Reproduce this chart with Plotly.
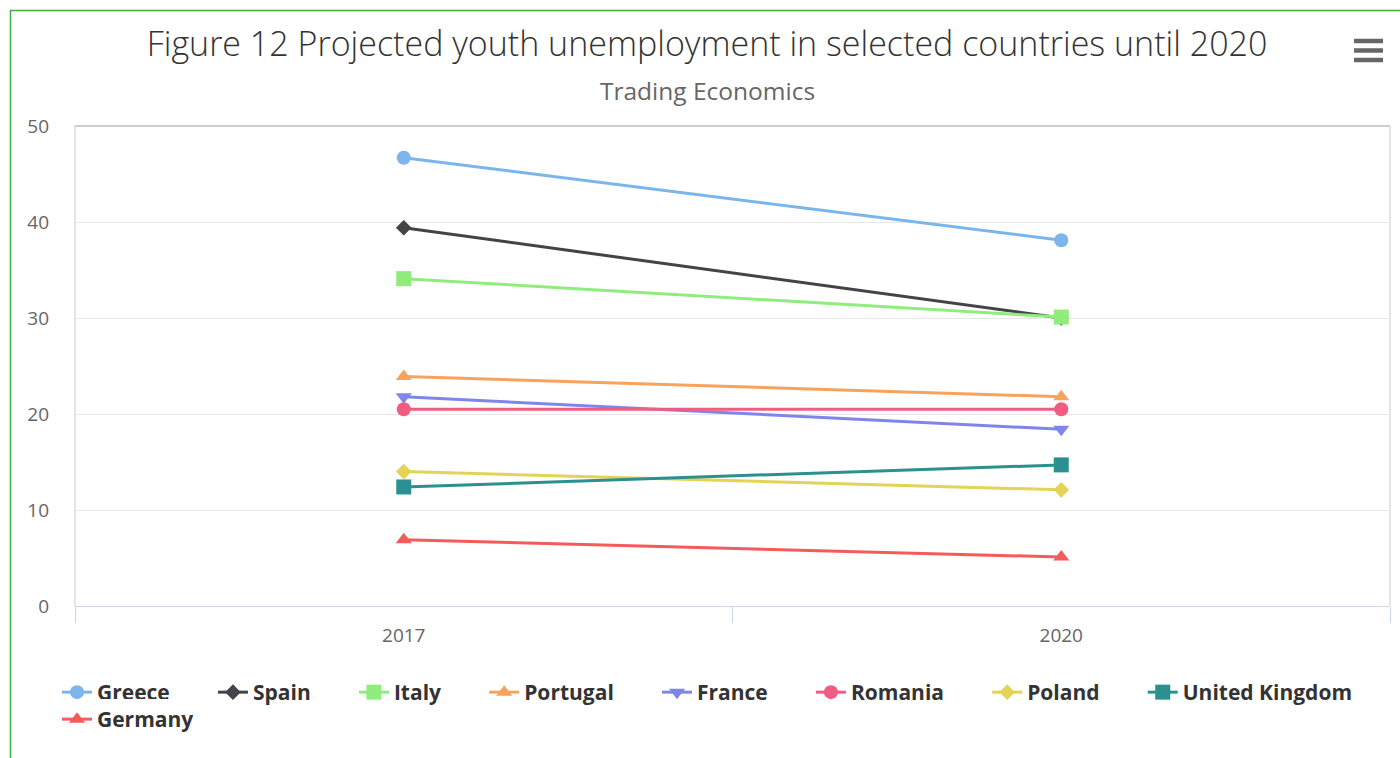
import plotly.graph_objects as go

years = ["2017", "2020"]
countries = ["Greece", "Spain", "Italy", "Portugal", "France", "Romania", "Poland", "United Kingdom", "Germany"]
greece = [46.7, 38.1]
spain = [39.4, 30.0]
italy = [34.1, 30.1]
portugal = [23.9, 21.8]
france = [21.8, 18.4]
romania = [20.5, 20.5]
poland = [14.0, 12.1]
uk = [12.4, 14.7]
germany = [6.9, 5.1]

series = [greece, spain, italy, portugal, france, romania, poland, uk, germany]
colors = ["#7cb5ec", "#434348", "#90ed7d", "#f7a35c", "#8085e9", "#f15c80", "#e4d354", "#2b908f", "#f45b5b"]
symbols = ["circle", "diamond", "square", "triangle-up", "triangle-down", "circle", "diamond", "square", "triangle-up"]
sizes = [14, 12, 15, 14, 14, 14, 12, 15, 14]

PAD = "\u00a0" * 7

fig = go.Figure()
n = len(countries)
for i, (name, vals, c, s, sz) in enumerate(zip(countries, series, colors, symbols, sizes)):
    last_row1 = (i == n - 2)
    second_row = (i == n - 1)
    fig.add_trace(go.Scatter(
        x=years, y=vals, name=name + ("" if (last_row1 or second_row) else PAD), mode="lines+markers",
        line=dict(color=c, width=3),
        marker=dict(symbol=s, size=sz, color=c, line=dict(width=0)),
        hovertemplate=name + ": %{y}<extra></extra>",
        legend="legend2" if second_row else "legend",
    ))

W, H = 1400, 758
L, R, T, B = 75, 10, 126, 152
pw, ph = W - L - R, H - T - B

def px(x):
    return (x - L) / pw

def py(y):
    return (H - B - y) / ph

shapes = [
    # plot border top/left/right
    dict(type="line", xref="paper", yref="paper", x0=0, x1=1, y0=1, y1=1, line=dict(color="#cccccc", width=2)),
    dict(type="line", xref="paper", yref="paper", x0=0, x1=0, y0=0, y1=1, line=dict(color="#cccccc", width=1)),
    dict(type="line", xref="paper", yref="paper", x0=1, x1=1, y0=0, y1=1, line=dict(color="#cccccc", width=1)),
    # green outer frame
    dict(type="line", xref="paper", yref="paper", x0=px(10), x1=px(1400), y0=py(10.5), y1=py(10.5), line=dict(color="#3cb043", width=1.5)),
    dict(type="line", xref="paper", yref="paper", x0=px(10.5), x1=px(10.5), y0=py(10), y1=py(758), line=dict(color="#3cb043", width=1.5)),
]
# hamburger menu icon
for yy in [41, 50.5, 60]:
    shapes.append(dict(type="line", xref="paper", yref="paper", x0=px(1354), x1=px(1383), y0=py(yy), y1=py(yy),
                       line=dict(color="#666666", width=4.5)))

legend_font = dict(size=21, color="#333333", family="Open Sans, sans-serif", weight="bold")

fig.update_layout(
    width=W, height=H,
    margin=dict(l=L, r=R, t=T, b=B),
    paper_bgcolor="white", plot_bgcolor="white",
    font=dict(family="Open Sans, sans-serif", color="#666666"),
    title=dict(text="Figure 12 Projected youth unemployment in selected countries until 2020",
               x=707 / W, xanchor="center", y=1 - 44 / H, yanchor="middle",
               font=dict(size=34, color="#333333", family="Open Sans, sans-serif", weight=300)),
    annotations=[dict(text="Trading Economics", xref="paper", yref="paper", x=px(707), y=py(90),
                      xanchor="center", yanchor="middle", showarrow=False,
                      font=dict(size=24.5, color="#666666", family="Open Sans, sans-serif"))],
    xaxis=dict(type="category", range=[-0.5, 1.5], showgrid=False, showline=True, linecolor="#ccd6eb",
               linewidth=1, ticks="outside", ticklen=16, tickcolor="#ccd6eb", tickson="boundaries",
               tickfont=dict(size=19, color="#666666"), zeroline=False, ticklabelstandoff=12),
    yaxis=dict(range=[0, 50], dtick=10, showgrid=True, gridcolor="#e6e6e6", gridwidth=1, zeroline=False,
               showline=False, tickfont=dict(size=19, color="#666666"), ticklabelstandoff=25),
    legend=dict(orientation="h", x=px(57), xanchor="left", y=py(672), yanchor="top",
                font=legend_font, itemwidth=30, tracegroupgap=0, traceorder="normal"),
    legend2=dict(orientation="h", x=px(57), xanchor="left", y=py(699), yanchor="top",
                 font=legend_font, itemwidth=30, tracegroupgap=0, traceorder="normal"),
    shapes=shapes,
    showlegend=True,
)

fig.write_html("out.html", post_script="document.body.style.margin='0';",
               config={"displayModeBar": False})
